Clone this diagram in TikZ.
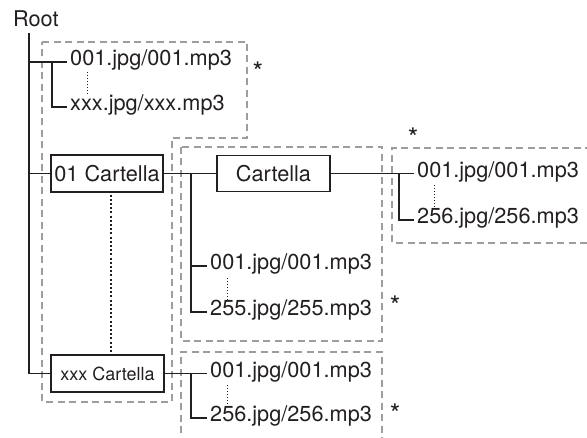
\documentclass[tikz,border=0pt]{standalone}
\usepackage{fontspec}
\setmainfont{TeX Gyre Heros}
\begin{document}
\begin{tikzpicture}[x=1pt,y=-1pt,
  txt/.style={font=\fontsize{21.7}{26}\selectfont, text=ink},
  fname/.style={txt, anchor=west, inner xsep=3pt, inner ysep=0pt, text height=0.709em, text depth=0pt},
  fold/.style={draw=ink, line width=1.2pt, inner sep=0pt, minimum height=37pt, txt},
  wire/.style={draw=ink, line width=1.1pt},
  grp/.style={draw=dgray, line width=2pt, dash pattern=on 7pt off 4.5pt},
  fdots/.style={draw=ink, line width=0.9pt, dash pattern=on 0.9pt off 2.1pt},
  bdots/.style={draw=ink, line width=2pt, dash pattern=on 2pt off 2.2pt},
  star/.style={font=\fontsize{27}{30}\selectfont, text=ink, anchor=base, inner sep=0pt}]
\definecolor{ink}{HTML}{231F20}
\definecolor{dgray}{HTML}{9D9D9D}
\clip (0,0) rectangle (587,438);
\fill[white] (0,0) rectangle (587,438);

% group frames
\draw[grp] (42,42) -- (247,42) -- (247,138) -- (172,138) -- (172,402) -- (42,402) -- cycle;
\draw[grp] (181,147) rectangle (382,341);
\draw[grp] (592,148) -- (392,148) -- (392,243) -- (592,243);
\draw[grp] (181,445) -- (181,352) -- (382,352) -- (382,445);

% nodes
\node[txt, anchor=base west, inner sep=0pt] (root) at (13,27) {Root};
\coordinate (spine) at (29,33);

\node[fname] (f1) at (67,62) {001.jpg/001.mp3};
\node[fname] (f2) at (67,107) {xxx.jpg/xxx.mp3};

\node[fold, minimum width=112pt] (b01) at (107,173.5) {01 Cartella};
\node[fold, minimum width=113pt, font=\fontsize{18}{22}\selectfont] (bxx) at (107.5,373.5) {xxx Cartella};
\node[fold, minimum width=113pt, minimum height=36pt] (bC) at (273.5,173.5) {Cartella};

\node[fname] (g2a) at (207,266) {001.jpg/001.mp3};
\node[fname] (g2b) at (207,312) {255.jpg/255.mp3};
\node[fname] (g3a) at (414,173.5) {001.jpg/001.mp3};
\node[fname] (g3b) at (414,220) {256.jpg/256.mp3};
\node[fname] (g4a) at (207,373.5) {001.jpg/001.mp3};
\node[fname] (g4b) at (207,418) {256.jpg/256.mp3};

\node[star] (s1) at (258,82) {*};
\node[star] (s2) at (413,148) {*};
\node[star] (s3) at (395,316) {*};
\node[star] (s4) at (395,424) {*};

% connectors
\draw[wire] (spine) |- (bxx.west);
\draw[wire] (spine |- f1.west) -- (f1.west);
\coordinate (j1) at (52,62);
\draw[wire] (j1) |- (f2.west);
\draw[wire] (spine |- b01.west) -- (b01.west);
\draw[wire] (b01.east) -- (bC.west);
\coordinate (j2) at (191,173.5);
\draw[wire] (j2) |- (g2b.west);
\draw[wire] (j2 |- g2a.west) -- (g2a.west);
\draw[wire] (bC.east) -- (g3a.west);
\coordinate (j3) at (399,173.5);
\draw[wire] (j3) |- (g3b.west);
\draw[wire] (bxx.east) -- (g4a.west);
\coordinate (j4) at (191,373.5);
\draw[wire] (j4) |- (g4b.west);

% dotted continuations
\draw[fdots] ([xshift=20pt,yshift=-10pt]f1.west) -- ([xshift=20pt,yshift=12pt]f2.west);
\draw[fdots] ([xshift=20pt,yshift=-12pt]g2a.west) -- ([xshift=20pt,yshift=12pt]g2b.west);
\draw[fdots] ([xshift=20pt,yshift=-12pt]g3a.west) -- ([xshift=20pt,yshift=12pt]g3b.west);
\draw[fdots] ([xshift=20pt,yshift=-12pt]g4a.west) -- ([xshift=20pt,yshift=12pt]g4b.west);
\draw[bdots] ([xshift=4pt,yshift=-2pt]b01.south) -- ([xshift=4pt,yshift=2pt]b01.south |- bxx.north);
\end{tikzpicture}
\end{document}
